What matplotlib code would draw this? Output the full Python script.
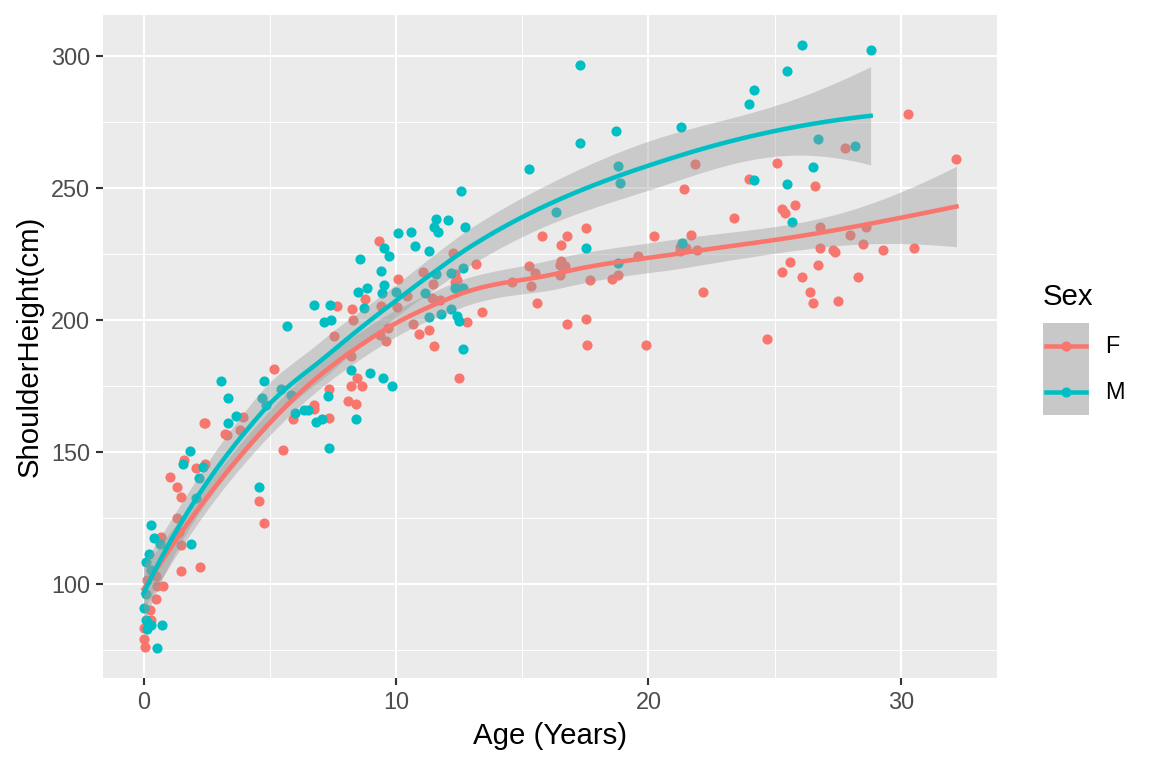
import numpy as np
import matplotlib
matplotlib.use("Agg")
import matplotlib.pyplot as plt
from matplotlib.patches import Rectangle
from matplotlib.lines import Line2D

plt.rcParams['font.family'] = ['Liberation Sans', 'DejaVu Sans']

# dados (idade em anos, altura no ombro em cm)
f_age = [0.0, 0.05, 0.03, 0.29, 0.25, 0.49, 0.51, 0.75, 0.15, 0.5,
         0.68, 1.05, 1.33, 1.34, 1.39, 1.49, 1.5, 1.5, 1.58, 2.08,
         2.24, 2.39, 2.42, 2.42, 3.24, 3.32, 3.82, 3.93, 4.57, 4.76,
         5.16, 5.52, 5.91, 6.74, 6.74, 7.33, 7.33, 7.55, 7.68, 8.08,
         8.43, 8.21, 8.21, 8.45, 8.67, 8.24, 8.29, 8.76, 9.34, 9.36,
         9.4, 9.59, 9.68, 10.03, 10.09, 10.45, 10.68, 10.92, 11.08, 11.32,
         11.43, 11.45, 11.52, 11.76, 12.26, 12.32, 12.34, 12.42, 12.5, 12.82,
         13.17, 13.41, 14.58, 15.26, 15.36, 15.5, 15.58, 15.78, 16.5, 16.53,
         16.53, 16.5, 16.7, 16.77, 16.77, 17.52, 17.52, 17.58, 17.7, 18.57,
         18.8, 19.6, 19.92, 20.2, 21.24, 21.24, 21.42, 21.5, 21.7, 21.86,
         21.94, 22.17, 23.4, 24.0, 24.7, 25.1, 25.3, 25.3, 25.4, 25.6,
         25.8, 26.1, 26.4, 26.5, 26.6, 26.7, 26.8, 26.8, 27.3, 27.4,
         27.5, 27.8, 28.0, 28.3, 28.5, 28.6, 29.3, 30.3, 30.5, 32.2]
f_height = [79.2, 76.0, 83.4, 86.2, 90.0, 94.1, 99.2, 99.0, 101.5, 103.0,
            117.9, 140.3, 125.0, 136.8, 119.5, 132.8, 114.8, 105.0, 147.0, 144.0,
            106.4, 160.8, 145.2, 160.9, 156.8, 156.3, 158.1, 163.2, 131.4, 123.0,
            181.5, 150.5, 162.5, 167.6, 166.3, 162.8, 173.9, 193.8, 205.2, 169.1,
            168.0, 186.4, 175.1, 178.0, 175.1, 204.2, 199.8, 208.0, 229.7, 194.2,
            205.2, 191.8, 196.8, 204.9, 215.5, 209.0, 198.3, 194.8, 218.0, 196.0,
            208.4, 213.5, 190.1, 207.7, 225.2, 214.3, 217.4, 214.9, 178.0, 199.2,
            221.0, 203.0, 214.3, 220.4, 213.0, 217.8, 206.3, 231.8, 220.7, 222.2,
            228.4, 216.8, 220.4, 231.8, 198.6, 234.8, 200.3, 190.5, 215.0, 215.5,
            216.8, 224.0, 190.5, 231.8, 227.6, 225.9, 249.7, 227.2, 232.2, 259.0,
            226.3, 210.5, 238.4, 253.4, 192.8, 259.4, 242.1, 218.0, 240.6, 221.9,
            243.6, 216.1, 210.5, 206.3, 250.8, 220.7, 235.3, 227.4, 226.6, 225.6,
            207.1, 265.2, 232.2, 216.1, 228.6, 235.0, 226.5, 277.8, 227.1, 261.0]

m_age = [0.0, 0.09, 0.08, 0.22, 0.29, 0.3, 0.42, 0.64, 0.09, 0.29,
         0.12, 0.72, 0.51, 1.57, 1.84, 1.86, 2.07, 2.2, 2.36, 3.08,
         3.34, 3.34, 3.64, 4.57, 4.69, 4.76, 4.83, 5.45, 5.69, 5.84,
         5.99, 6.34, 6.5, 6.74, 6.83, 7.05, 7.16, 7.31, 7.33, 7.39,
         7.42, 8.22, 8.42, 8.51, 8.59, 8.75, 8.83, 8.97, 9.42, 9.46,
         9.5, 9.51, 9.51, 9.74, 9.82, 10.0, 10.09, 10.58, 10.77, 11.14,
         11.32, 11.32, 11.5, 11.57, 11.58, 11.67, 11.77, 12.07, 12.16, 12.19,
         12.32, 12.42, 12.5, 12.58, 12.64, 12.66, 12.66, 12.74, 15.27, 16.34,
         17.28, 17.28, 17.52, 18.7, 18.78, 18.87, 18.78, 21.27, 21.33, 24.0,
         24.2, 24.2, 25.5, 25.5, 25.7, 26.1, 26.5, 26.7, 28.2, 28.8]
m_height = [91.0, 96.0, 108.1, 111.1, 105.1, 122.4, 117.4, 115.1, 86.2, 84.3,
            82.9, 84.3, 75.7, 145.3, 150.2, 115.2, 132.4, 140.1, 144.2, 177.0,
            170.3, 160.9, 163.4, 136.6, 170.5, 177.0, 167.6, 173.8, 197.7, 171.6,
            164.8, 165.9, 165.9, 205.6, 161.3, 162.3, 199.2, 171.3, 151.3, 205.6,
            200.0, 181.0, 162.3, 210.6, 223.2, 204.6, 212.1, 180.0, 218.5, 210.3,
            178.0, 227.3, 213.3, 224.1, 175.1, 210.5, 232.9, 233.2, 227.8, 210.3,
            225.9, 201.1, 235.0, 217.4, 238.1, 233.1, 202.1, 238.0, 217.8, 204.2,
            211.9, 201.3, 199.6, 248.8, 212.1, 219.7, 188.9, 235.0, 257.1, 241.0,
            296.6, 267.0, 227.1, 271.5, 258.3, 251.7, 221.6, 273.0, 229.1, 281.7,
            287.2, 253.0, 294.1, 251.5, 237.2, 304.1, 258.0, 268.5, 265.9, 302.3]

cores = {'F': '#F8766D', 'M': '#00BFC4'}


def loess(x, y, xs, span=0.75, cell=0.2):
    # loess quadratico com interpolacao em vertices (como surface="interpolate" do R)
    x = np.asarray(x, float)
    y = np.asarray(y, float)
    n = len(x)
    q = int(np.floor(span * n))
    fc = int(np.floor(n * span * cell))

    def operador(x0):
        d = np.abs(x - x0)
        h = np.sort(d)[q - 1]
        w = np.clip(1 - (d / h) ** 3, 0, None) ** 3
        X = np.column_stack([np.ones(n), x - x0, (x - x0) ** 2])
        XtW = X.T * w
        B = np.linalg.solve(XtW @ X, XtW)
        return B[0], B[1]

    # vertices da arvore kd (1D)
    mu = 0.005 * (x.max() - x.min())
    verts = {x.min() - mu, x.max() + mu}

    def dividir(pts, lo, hi):
        if len(pts) <= fc:
            return
        v = np.median(pts)
        if v <= lo or v >= hi:
            return
        verts.add(v)
        dividir(pts[pts <= v], lo, v)
        dividir(pts[pts > v], v, hi)

    dividir(np.sort(x), x.min() - mu, x.max() + mu)
    vv = np.array(sorted(verts))
    ops = [operador(v) for v in vv]

    def linha(x0):
        k = min(max(np.searchsorted(vv, x0) - 1, 0), len(vv) - 2)
        hh = vv[k + 1] - vv[k]
        t = (x0 - vv[k]) / hh
        h00 = 2 * t ** 3 - 3 * t ** 2 + 1
        h10 = t ** 3 - 2 * t ** 2 + t
        h01 = -2 * t ** 3 + 3 * t ** 2
        h11 = t ** 3 - t ** 2
        return (h00 * ops[k][0] + h10 * hh * ops[k][1]
                + h01 * ops[k + 1][0] + h11 * hh * ops[k + 1][1])

    L = np.array([linha(xi) for xi in x])
    res = y - L @ y
    IL = np.eye(n) - L
    delta1 = np.trace(IL.T @ IL)
    s = np.sqrt(np.sum(res ** 2) / delta1)
    Ls = np.array([linha(x0) for x0 in xs])
    fit = Ls @ y
    se = s * np.sqrt((Ls ** 2).sum(axis=1))
    return fit, se


fig = plt.figure(figsize=(6, 4), dpi=192)
ax = fig.add_axes([0.0894, 0.1172, 0.7761, 0.8633])
ax.set_facecolor('#EBEBEB')
for s in ax.spines.values():
    s.set_visible(False)

ax.set_xticks([0, 10, 20, 30])
ax.set_yticks([100, 150, 200, 250, 300])
ax.set_xticks([5, 15, 25], minor=True)
ax.set_yticks([75, 125, 175, 225, 275], minor=True)
ax.set_xlim(-1.61, 33.81)
ax.set_ylim(64.3, 315.5)
ax.grid(True, which='major', color='white', lw=0.8)
ax.grid(True, which='minor', color='white', lw=0.4)
ax.set_axisbelow(True)
ax.tick_params(which='major', length=2.75, width=0.8, color='#333333',
               labelsize=8.8, labelcolor='#4D4D4D', pad=2.2)
ax.tick_params(which='minor', length=0)

ax.scatter(f_age, f_height, s=14.5, color=cores['F'], lw=0, zorder=2)
ax.scatter(m_age, m_height, s=14.5, color=cores['M'], lw=0, zorder=2)

for sexo, xa, ya in [('F', f_age, f_height), ('M', m_age, m_height)]:
    xs = np.linspace(min(xa), max(xa), 80)
    fit, se = loess(xa, ya, xs)
    ax.fill_between(xs, fit - 1.98 * se, fit + 1.98 * se, color='#999999',
                    alpha=0.4, lw=0, zorder=3)
    ax.plot(xs, fit, color=cores[sexo], lw=1.7, zorder=4)

ax.set_xlabel("Age (Years)", fontsize=11, labelpad=2.75)
ax.set_ylabel("ShoulderHeight(cm)", fontsize=11, labelpad=2.75)

# legenda desenhada a mao, no estilo do ggplot
fig.text(0.9054, 0.6133, "Sex", fontsize=11, va='center', ha='left')
kx0, kx1 = 0.9054, 0.9453
ky = [0.5794, 0.5195, 0.4596]
fig.add_artist(Rectangle((kx0, ky[2]), kx1 - kx0, ky[0] - ky[2],
                         transform=fig.transFigure, color='#C8C8C8', lw=0))
for i, sexo in enumerate(['F', 'M']):
    yc = (ky[i] + ky[i + 1]) / 2
    fig.add_artist(Line2D([kx0 + 0.003, kx1 - 0.003], [yc, yc], transform=fig.transFigure,
                          color=cores[sexo], lw=1.7))
    fig.add_artist(Line2D([(kx0 + kx1) / 2], [yc], transform=fig.transFigure,
                          color=cores[sexo], marker='o', ms=3.8, mew=0, lw=0))
    fig.text(0.959, yc, sexo, fontsize=8.8, va='center', ha='left')

fig.savefig("out.png", dpi=192)
